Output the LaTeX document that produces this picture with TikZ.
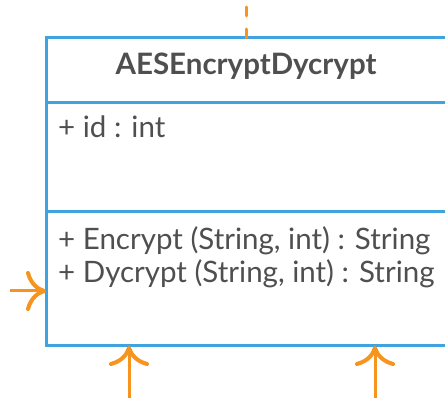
\documentclass[tikz,border=0pt]{standalone}
\usepackage{fontspec}
\setmainfont{Lato}
\usetikzlibrary{arrows.meta}
\definecolor{umlblue}{HTML}{3FA3E0}
\definecolor{umlorange}{HTML}{F7941D}
\definecolor{umltext}{HTML}{4F4F4F}
\begin{document}
\begin{tikzpicture}[x=1pt, y=-1pt, text=umltext,
		font=\fontsize{29.5}{34}\selectfont,
		classline/.style={draw=umlblue, line width=3pt},
		relation/.style={draw=umlorange, line width=3pt, -{To[length=20pt,width=40pt,line width=4pt]}},
		member/.style={anchor=base west, inner sep=0pt}]
	\useasboundingbox (0,0) rectangle (445,398);
	\clip (0,0) rectangle (445,398);
		\coordinate (nw) at (46,38);
		\coordinate (ne) at (450,38);
		\coordinate (sw) at (46,346);
		\coordinate (se) at (450,346);
		\coordinate (hw) at (46,103);
		\coordinate (he) at (450,103);
		\coordinate (aw) at (46,212);
		\coordinate (ae) at (450,212);
		\draw[classline] (ne) -- (nw) -- (sw) -- (se);
		\draw[classline] (hw) -- (he);
		\draw[classline] (aw) -- (ae);
		\node[font=\fontsize{29.5}{34}\selectfont\bfseries] (name) at (246,66) {AESEncryptDycrypt};
		\node[member] (attr) at (58,138) {+ id : int};
		\node[member] (enc) at (58,250) {+ Encrypt (String, int) : String};
		\node[member] (dyc) at (58,283) {+ Dycrypt (String, int) : String};
		\coordinate (top) at (246,38);
		\coordinate (dep) at (246,-4);
		\coordinate (left) at (46,291);
		\coordinate (src) at (10,291);
		\coordinate (bot1) at (129,346);
		\coordinate (use1) at (129,402);
		\coordinate (bot2) at (375,346);
		\coordinate (use2) at (375,402);
		\draw[umlorange, line width=3pt, line cap=round, dash pattern=on 9pt off 13pt] (top) -- (dep);
		\draw[relation] (src) -- (left);
		\draw[relation] (use1) -- (bot1);
		\draw[relation] (use2) -- (bot2);
	\end{tikzpicture}
\end{document}
